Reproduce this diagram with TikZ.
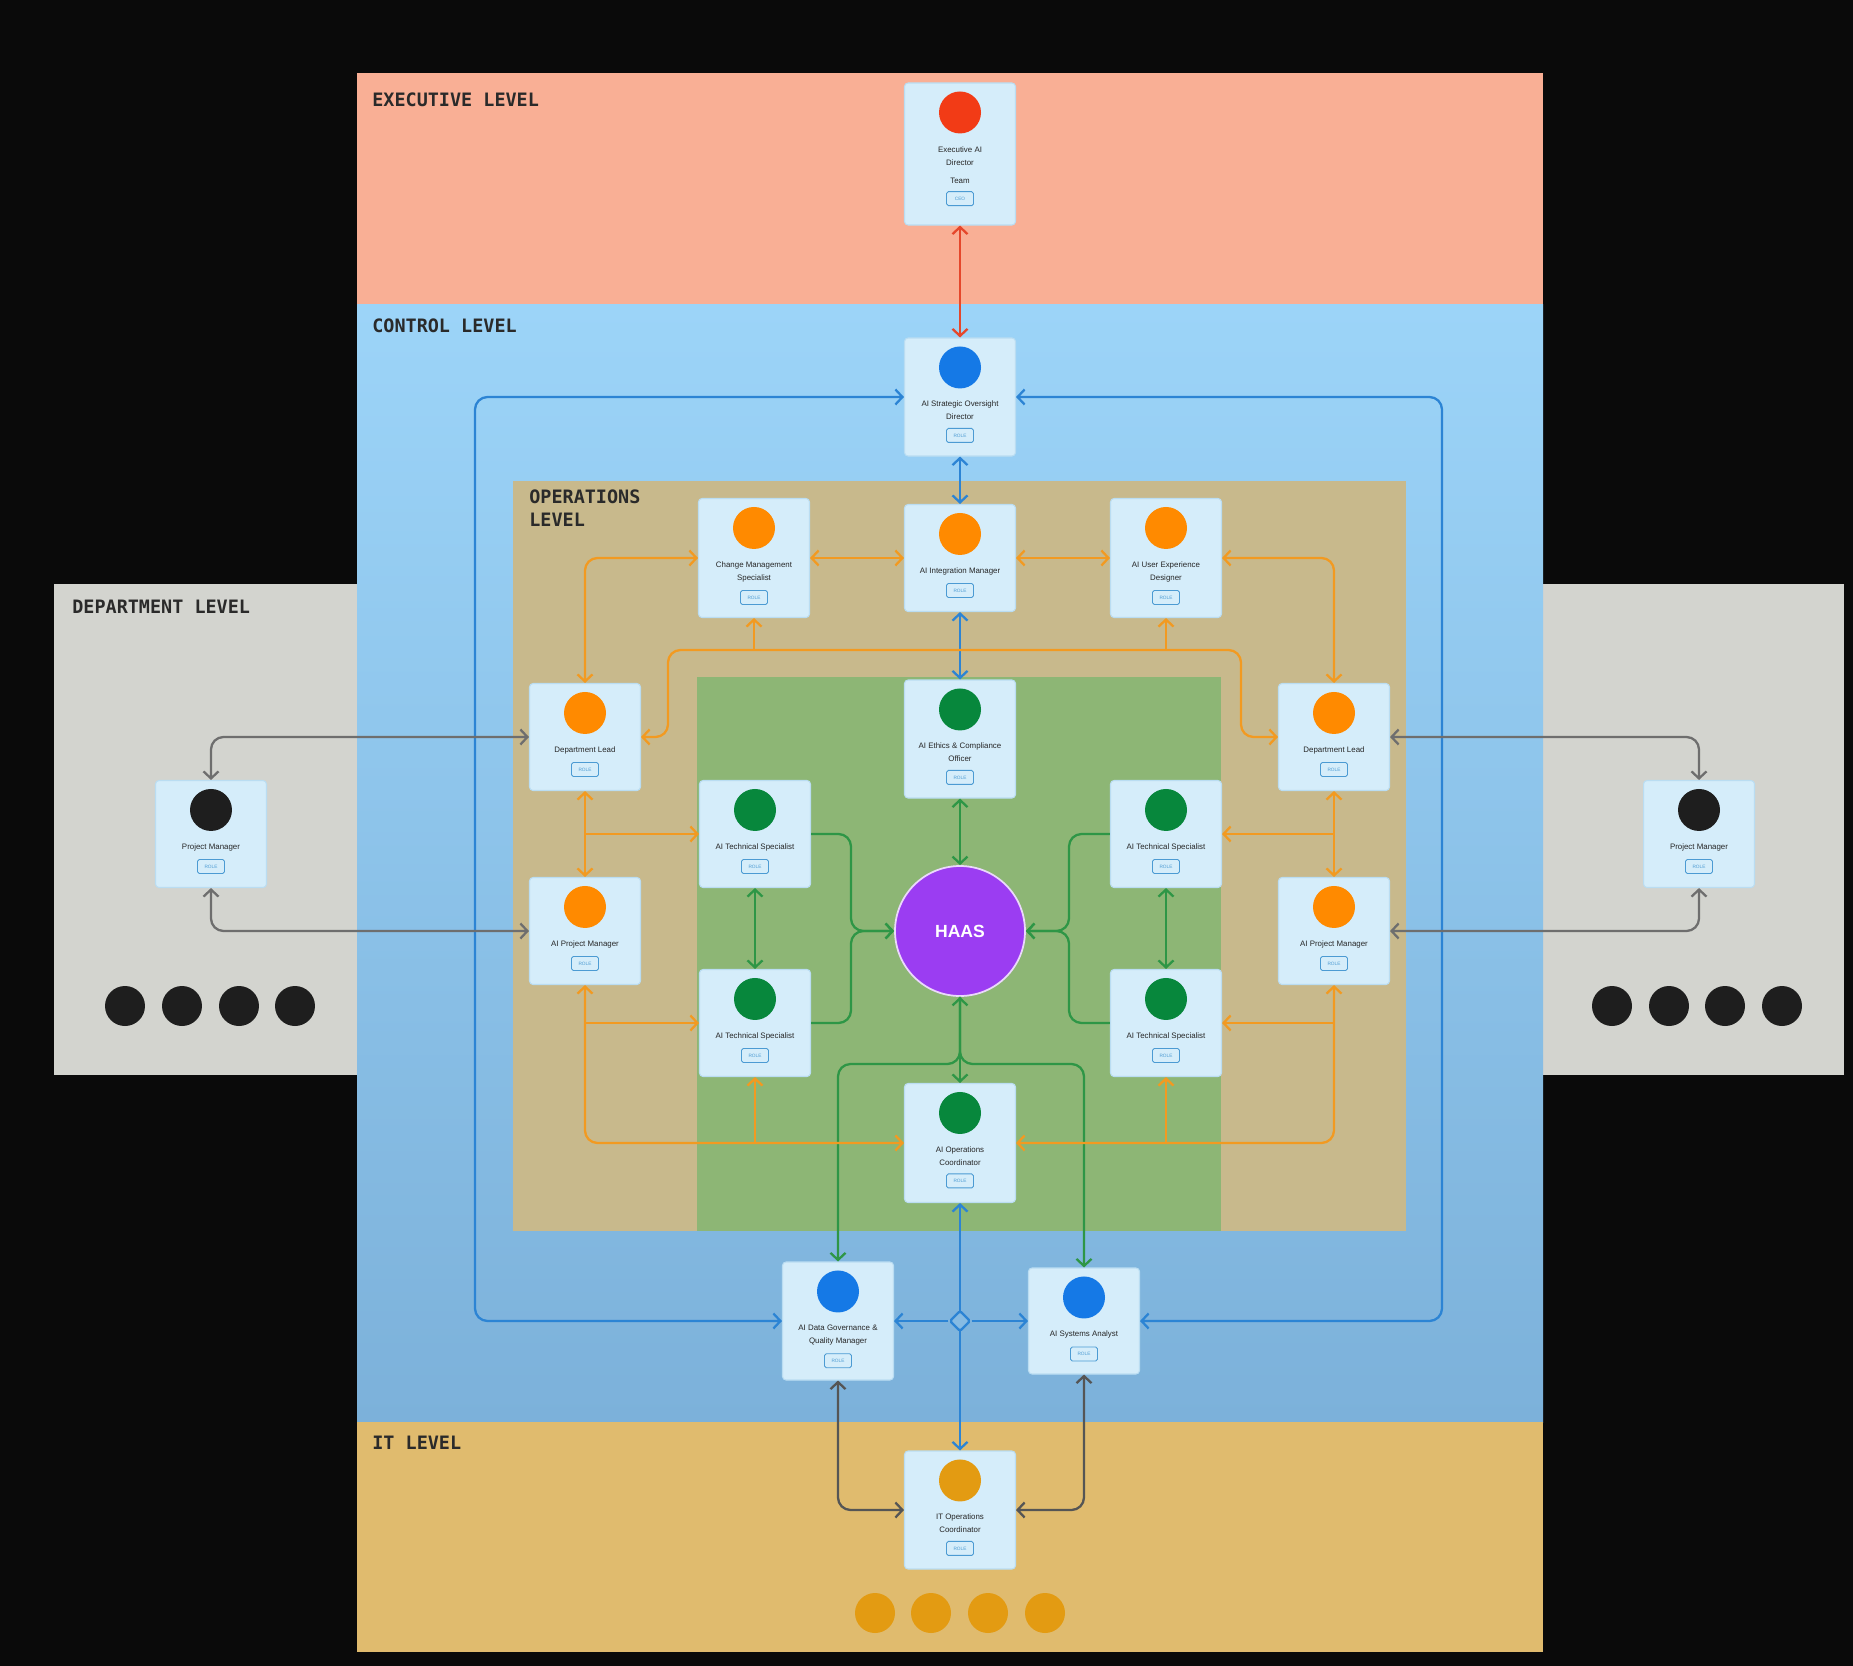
\documentclass[tikz,border=0pt]{standalone}
\usepackage{fontspec}
\setsansfont{Liberation Sans}
\setmonofont{DejaVu Sans Mono}
\usetikzlibrary{positioning,calc,arrows.meta,shapes.geometric}

\definecolor{execbg}{HTML}{F9AF95}
\definecolor{ctrlbg}{HTML}{9CD4F8}
\definecolor{ctrlbot}{HTML}{7CB1DA}
\definecolor{opsbg}{HTML}{C8B98C}
\definecolor{corebg}{HTML}{8DB675}
\definecolor{deptbg}{HTML}{D3D4CF}
\definecolor{itbg}{HTML}{E0BB6E}
\definecolor{cardbg}{HTML}{D5EDFA}
\definecolor{cardline}{HTML}{BADDF2}
\definecolor{dotred}{HTML}{F23B16}
\definecolor{dotblue}{HTML}{1579E6}
\definecolor{dotorange}{HTML}{FF8A00}
\definecolor{dotgreen}{HTML}{07873C}
\definecolor{dotblack}{HTML}{1E1E1E}
\definecolor{dotgold}{HTML}{E39B12}
\definecolor{haasviolet}{HTML}{9B3DF2}
\definecolor{linered}{HTML}{E5472B}
\definecolor{lineblue}{HTML}{2C84D4}
\definecolor{lineorange}{HTML}{F29A21}
\definecolor{linegreen}{HTML}{2E9646}
\definecolor{linegray}{HTML}{555555}
\definecolor{tagblue}{HTML}{4C9BD3}
\definecolor{labelgray}{HTML}{2A2A2A}

% card: name, x, y, height (px), dot colour, text
\newcommand{\rolecard}[6]{%
  \node[card, minimum height=#4*0.02cm] (#1) at (#2,#3) {};
  \node[dot, fill=#5] (#1-dot) at ($(#1.north)+(0,30)$) {};
  \node[cardtext] (#1-txt) at ($(#1.north)+(0,63)$) {#6};
  \node[roletag, below=0.16cm of #1-txt] (#1-tag) {ROLE};
}

\begin{document}
\begin{tikzpicture}[x=0.02cm, y=-0.02cm,
  >={Straight Barb[length=1.4mm,width=3mm]},
  card/.style={draw=cardline, fill=cardbg, rounded corners=2pt, minimum width=2.22cm, inner sep=0, line width=0.6pt},
  dot/.style={circle, minimum size=0.84cm, inner sep=0},
  bigdot/.style={circle, minimum size=0.8cm, inner sep=0},
  cardtext/.style={anchor=north, align=center, inner sep=0, font=\sffamily\fontsize{4.5}{7.4}\selectfont, text=black!85},
  roletag/.style={draw=tagblue, text=tagblue, rounded corners=1pt, line width=0.5pt, minimum width=0.54cm, minimum height=0.28cm, inner sep=0, font=\sffamily\fontsize{2.7}{3}\selectfont},
  levellabel/.style={anchor=west, inner sep=0, align=left, font=\ttfamily\bfseries\fontsize{10.5}{13.6}\selectfont, text=labelgray},
  conn/.style={line width=1.3pt, rounded corners=0.25cm}]

% levels
\fill[black!96] (0,0) rectangle (1853,1666);
\fill[deptbg] (54,584) rectangle (357,1075);
\fill[deptbg] (1543,584) rectangle (1844,1075);
\fill[execbg] (357,73) rectangle (1543,304);
\shade[top color=ctrlbg, bottom color=ctrlbot] (357,304) rectangle (1543,1422);
\fill[itbg] (357,1422) rectangle (1543,1652);
\fill[opsbg] (513,481) rectangle (1406,1231);
\fill[corebg] (697,677) rectangle (1221,1231);

\node[levellabel] (lvl-exec) at (372,100) {EXECUTIVE LEVEL};
\node[levellabel] (lvl-ctrl) at (372,326) {CONTROL LEVEL};
\node[levellabel, anchor=north west] (lvl-ops) at (529,489) {OPERATIONS\\LEVEL};
\node[levellabel] (lvl-dept) at (72,607) {DEPARTMENT LEVEL};
\node[levellabel] (lvl-it) at (372,1443) {IT LEVEL};

% executive card
\node[card, minimum height=142*0.02cm] (exec) at (960,154) {};
\node[dot, fill=dotred] (exec-dot) at ($(exec.north)+(0,30)$) {};
\node[cardtext] (exec-txt) at ($(exec.north)+(0,64)$) {Executive AI\\Director};
\node[cardtext, below=0.24cm of exec-txt] (exec-team) {Team};
\node[roletag, below=0.14cm of exec-team] (exec-tag) {CEO};

% cards
\rolecard{strat}{960}{397}{118}{dotblue}{AI Strategic Oversight\\Director}
\rolecard{chg}{754}{558}{119}{dotorange}{Change Management\\Specialist}
\rolecard{integ}{960}{558}{107}{dotorange}{AI Integration Manager}
\rolecard{ux}{1166}{558}{119}{dotorange}{AI User Experience\\Designer}
\rolecard{leadL}{585}{737}{107}{dotorange}{Department Lead}
\rolecard{leadR}{1334}{737}{107}{dotorange}{Department Lead}
\rolecard{ethics}{960}{739}{118}{dotgreen}{AI Ethics \& Compliance\\Officer}
\rolecard{techTL}{755}{834}{107}{dotgreen}{AI Technical Specialist}
\rolecard{techTR}{1166}{834}{107}{dotgreen}{AI Technical Specialist}
\rolecard{pmL}{211}{834}{107}{dotblack}{Project Manager}
\rolecard{pmR}{1699}{834}{107}{dotblack}{Project Manager}
\rolecard{aipmL}{585}{931}{107}{dotorange}{AI Project Manager}
\rolecard{aipmR}{1334}{931}{107}{dotorange}{AI Project Manager}
\rolecard{techBL}{755}{1023}{107}{dotgreen}{AI Technical Specialist}
\rolecard{techBR}{1166}{1023}{107}{dotgreen}{AI Technical Specialist}
\rolecard{opsco}{960}{1143}{119}{dotgreen}{AI Operations\\Coordinator}
\rolecard{datag}{838}{1321}{118}{dotblue}{AI Data Governance \&\\Quality Manager}
\rolecard{sysan}{1084}{1321}{106}{dotblue}{AI Systems Analyst}
\rolecard{itops}{960}{1510}{118}{dotgold}{IT Operations\\Coordinator}

\node[circle, fill=haasviolet, draw=white!80!haasviolet, line width=1pt, minimum size=2.6cm, text=white, font=\sffamily\bfseries\fontsize{10}{12}\selectfont] (haas) at (960,931) {HAAS};

% more members
\foreach \x in {125,182,239,295} \node[bigdot, fill=dotblack] (deptL-\x) at (\x,1006) {};
\foreach \x in {1612,1669,1725,1782} \node[bigdot, fill=dotblack] (deptR-\x) at (\x,1006) {};
\foreach \x in {875,931,988,1045} \node[bigdot, fill=dotgold] (itm-\x) at (\x,1613) {};

\coordinate (loopL) at (475,397);
\coordinate (loopR) at (1442,397);
\coordinate (busL) at (668,650);
\coordinate (busR) at (1241,650);
\coordinate (mergeL) at (851,931);
\coordinate (mergeR) at (1069,931);
\coordinate (split) at (960,1064);

% red
\draw[conn, linered, <->] (exec) -- (strat);

% blue
\draw[conn, lineblue, <->] (strat) -- (integ);
\draw[conn, lineblue, <->] (integ) -- (ethics);
\draw[conn, lineblue, <->] (strat.west) -- (loopL) |- (datag.west);
\draw[conn, lineblue, <->] (strat.east) -- (loopR) |- (sysan.east);
\draw[conn, lineblue, <->] (opsco.south) -- (itops.north);
\node[diamond, draw=lineblue, fill=ctrlbot!70!ctrlbg, line width=1.3pt, rounded corners=1pt, minimum size=0.42cm, inner sep=0] (hub) at (960,1321) {};
\draw[conn, lineblue, ->] (hub) -- (datag.east);
\draw[conn, lineblue, ->] (hub) -- (sysan.west);

% gray
\draw[conn, linegray, <->] (datag.south) |- (itops.west);
\draw[conn, linegray, <->] (sysan.south) |- (itops.east);
\draw[conn, linegray!85, <->] (pmL.north) |- (leadL.west);
\draw[conn, linegray!85, <->] (pmL.south) |- (aipmL.west);
\draw[conn, linegray!85, <->] (pmR.north) |- (leadR.east);
\draw[conn, linegray!85, <->] (pmR.south) |- (aipmR.east);

% green
\draw[conn, linegreen, <->] (ethics) -- (haas);
\draw[conn, linegreen, <->] (techTL) -- (techBL);
\draw[conn, linegreen, <->] (techTR) -- (techBR);
\draw[conn, linegreen, ->] (techTL.east) -| (mergeL) -- (haas.west);
\draw[conn, linegreen, ->] (techBL.east) -| (mergeL) -- (haas.west);
\draw[conn, linegreen, ->] (techTR.west) -| (mergeR) -- (haas.east);
\draw[conn, linegreen, ->] (techBR.west) -| (mergeR) -- (haas.east);
\draw[conn, linegreen, <->] (haas.south) -- (opsco.north);
\draw[conn, linegreen, ->] (haas.south) -- (split) -| (datag.north);
\draw[conn, linegreen, ->] (haas.south) -- (split) -| (sysan.north);

% orange
\draw[conn, lineorange, <->] (chg.east) -- (integ.west);
\draw[conn, lineorange, <->] (integ.east) -- (ux.west);
\draw[conn, lineorange, <->] (chg.west) -| (leadL.north);
\draw[conn, lineorange, <->] (ux.east) -| (leadR.north);
\draw[conn, lineorange, <->] (leadL.east) -| (busL) -- (busR) |- (leadR.west);
\draw[conn, lineorange, ->] (chg.south |- busL) -- (chg.south);
\draw[conn, lineorange, ->] (ux.south |- busL) -- (ux.south);
\draw[conn, lineorange, <->] (leadL.south) -- (aipmL.north);
\draw[conn, lineorange, ->] (leadL.south |- techTL.west) -- (techTL.west);
\draw[conn, lineorange, <->] (leadR.south) -- (aipmR.north);
\draw[conn, lineorange, ->] (leadR.south |- techTR.east) -- (techTR.east);
\draw[conn, lineorange, <->] (aipmL.south) |- (opsco.west);
\draw[conn, lineorange, ->] (aipmL.south |- techBL.west) -- (techBL.west);
\draw[conn, lineorange, ->] (techBL.south |- opsco.west) -- (techBL.south);
\draw[conn, lineorange, <->] (aipmR.south) |- (opsco.east);
\draw[conn, lineorange, ->] (aipmR.south |- techBR.east) -- (techBR.east);
\draw[conn, lineorange, ->] (techBR.south |- opsco.east) -- (techBR.south);
\end{tikzpicture}
\end{document}
